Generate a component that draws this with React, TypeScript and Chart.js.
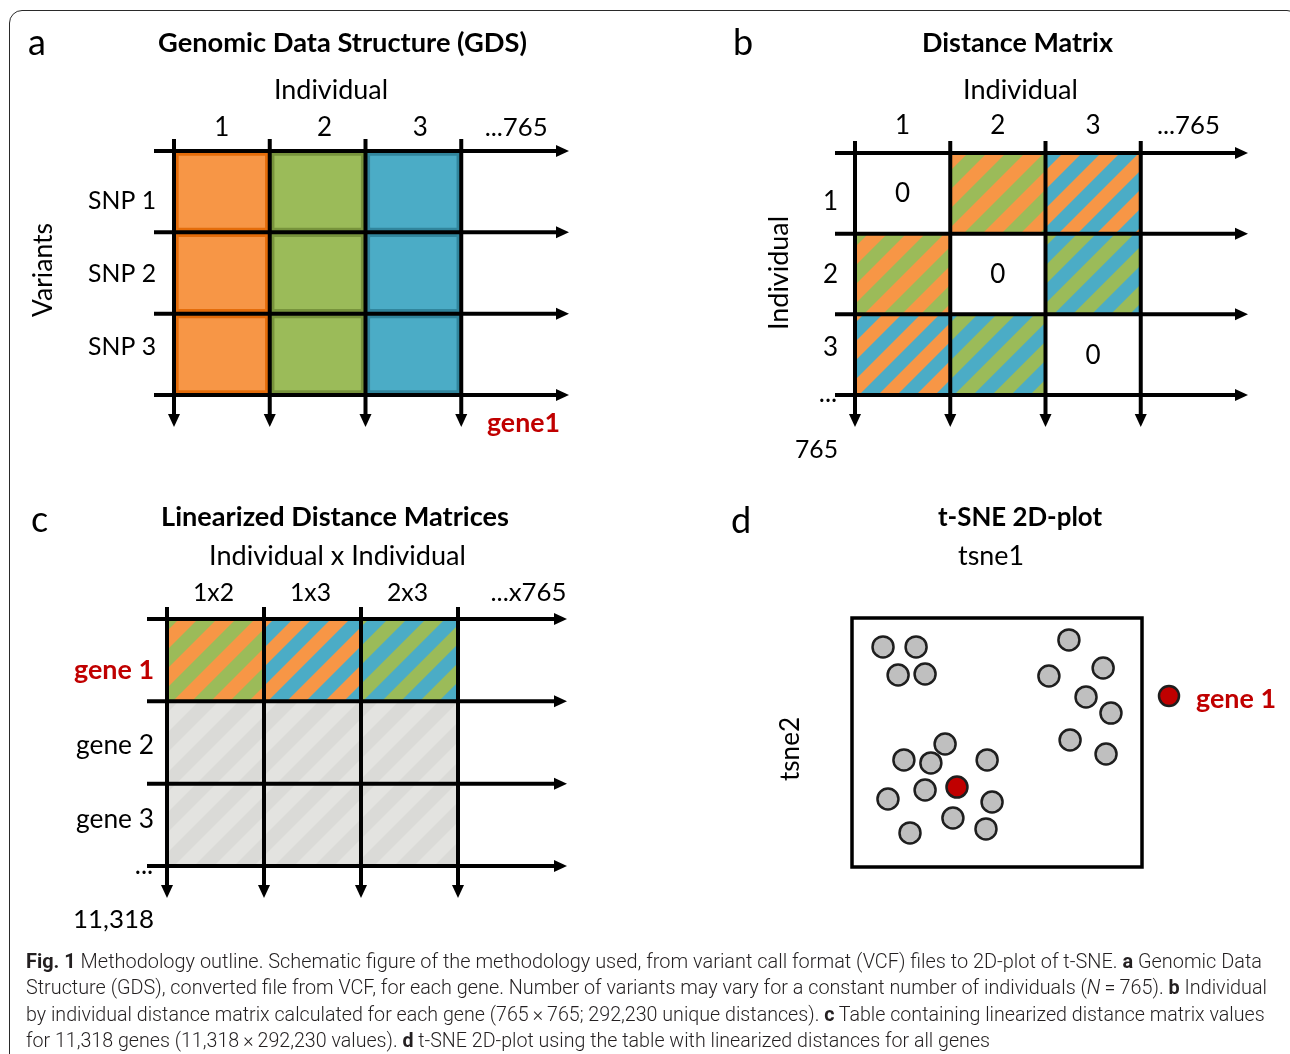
import React, { useEffect, useRef } from 'react';
import { Chart, registerables } from 'chart.js';

Chart.register(...registerables);

const W = 1290;
const H = 1054;
const FONT = 'Lato, "Open Sans", "DejaVu Sans", sans-serif';
const CAP_FONT = 'Roboto, "Liberation Sans", sans-serif';
const CAP_SIZE = 20;

const ORANGE = '#F79646';
const ORANGE_D = '#E46C0A';
const GREEN = '#9BBB59';
const GREEN_D = '#77933C';
const BLUE = '#4BACC6';
const BLUE_D = '#31859C';
const RED = '#C00000';

// ---- Panel a: Genomic Data Structure ----
const gdsIndividuals = ['1', '2', '3', '...765'];
const gdsVariants = ['SNP 1', 'SNP 2', 'SNP 3'];
const gdsIndividualColor = ['orange', 'green', 'blue', ''];

// ---- Panel b: Distance matrix ----
const distIndividuals = ['1', '2', '3', '...765'];
const distRows = ['1', '2', '3'];
const distCells = [
  ['0', 'green|orange', 'blue|orange', ''],
  ['green|orange', '0', 'green|blue', ''],
  ['orange|blue', 'green|blue', '0', ''],
];

// ---- Panel c: Linearized distance matrices ----
const pairLabels = ['1x2', '1x3', '2x3', '...x765'];
const geneLabels = ['gene 1', 'gene 2', 'gene 3'];
const geneCells = [
  ['green|orange', 'blue|orange', 'green|blue', ''],
  ['gray', 'gray', 'gray', ''],
  ['gray', 'gray', 'gray', ''],
];

// ---- Panel d: t-SNE ----
const tsneX = [10.7, 22.1, 15.9, 25.2, 74.8, 86.6, 67.9, 80.7, 89.3, 75.2, 87.6, 32.1, 17.9, 27.2, 46.6, 25.2, 12.4, 48.3, 34.8, 46.2, 20.0];
const tsneY = [88.4, 88.4, 77.1, 77.5, 91.2, 79.9, 76.7, 68.3, 61.8, 51.0, 45.4, 49.4, 43.0, 41.8, 43.0, 30.9, 27.3, 26.1, 19.7, 15.3, 13.7];
const geneOneX = [36.2];
const geneOneY = [32.1];

// ---- Caption ----
type Seg = [string, string];
const captionLines: { segs: Seg[]; width: number; base: number }[] = [
  {
    segs: [['Fig. 1', 'b'], [' Methodology outline. Schematic figure of the methodology used, from variant call format (VCF) files to 2D-plot of t-SNE. ', ''], ['a', 'b'], [' Genomic Data', '']],
    width: 1236, base: 967.5,
  },
  {
    segs: [['Structure (GDS), converted file from VCF, for each gene. Number of variants may vary for a constant number of individuals (', ''], ['N', 'i'], ['\u2009=\u2009765). ', ''], ['b', 'b'], [' Individual', '']],
    width: 1241, base: 994,
  },
  {
    segs: [['by individual distance matrix calculated for each gene (765\u2009\u00d7\u2009765; 292,230 unique distances). ', ''], ['c', 'b'], [' Table containing linearized distance matrix values', '']],
    width: 1239, base: 1020.5,
  },
  {
    segs: [['for 11,318 genes (11,318\u2009\u00d7\u2009292,230 values). ', ''], ['d', 'b'], [' t-SNE 2D-plot using the table with linearized distances for all genes', '']],
    width: 964, base: 1047,
  },
];

function segFont(st: string) {
  return `${st === 'i' ? 'italic ' : ''}${st === 'b' ? 700 : 300} ${CAP_SIZE}px ${CAP_FONT}`;
}

function measureSegs(segs: Seg[]) {
  const c = document.createElement('canvas').getContext('2d')!;
  let w = 0;
  for (const [t, st] of segs) {
    c.font = segFont(st);
    w += c.measureText(t).width;
  }
  return w;
}

type TxtOpt = { w?: number; size?: number; bold?: boolean; color?: string; align?: CanvasTextAlign; rot?: boolean };
function txt(ctx: CanvasRenderingContext2D, s: string, x: number, y: number, o: TxtOpt = {}) {
  const weight = o.bold ? 700 : 400;
  let size = o.size ?? 26;
  ctx.save();
  ctx.font = `${weight} ${size}px ${FONT}`;
  if (o.w) {
    const m = ctx.measureText(s).width;
    size = (size * o.w) / m;
    ctx.font = `${weight} ${size.toFixed(2)}px ${FONT}`;
  }
  ctx.fillStyle = o.color ?? '#000';
  ctx.textAlign = o.align ?? 'center';
  ctx.textBaseline = 'alphabetic';
  ctx.translate(x, y);
  if (o.rot) ctx.rotate(-Math.PI / 2);
  ctx.fillText(s, 0, 0);
  ctx.restore();
}

function stripes(c1: string, c2: string, P: number): CanvasPattern {
  const cv = document.createElement('canvas');
  cv.width = P;
  cv.height = P;
  const g = cv.getContext('2d')!;
  g.fillStyle = c1;
  g.fillRect(0, 0, P, P);
  g.fillStyle = c2;
  for (let k = -1; k <= 2; k++) {
    g.beginPath();
    g.moveTo(k * P, 0);
    g.lineTo(k * P + P / 2, 0);
    g.lineTo(k * P + P / 2 - P, P);
    g.lineTo(k * P - P, P);
    g.closePath();
    g.fill();
  }
  return g.createPattern(cv, 'repeat')!;
}

const colorOf: Record<string, string> = { orange: ORANGE, green: GREEN, blue: BLUE };
const darkOf: Record<string, string> = { orange: ORANGE_D, green: GREEN_D, blue: BLUE_D };

function drawGrid(chart: any) {
  const { ctx, chartArea: a, scales } = chart;
  const x = scales.x;
  const y = scales.y;
  const n = chart.data.labels.length;
  const colW = (a.right - a.left) / n;
  const nRows = chart.data.datasets.length;
  const hStart = a.left - 20;
  const hTip = a.right + 12;
  const vStart = a.top - 12;
  const vTip = a.bottom + 32;
  ctx.save();
  ctx.strokeStyle = '#000';
  ctx.fillStyle = '#000';
  ctx.lineWidth = 4;
  for (let k = 0; k <= nRows; k++) {
    const yy = y.getPixelForValue(k);
    ctx.beginPath();
    ctx.moveTo(hStart, yy);
    ctx.lineTo(hTip - 10, yy);
    ctx.stroke();
    ctx.beginPath();
    ctx.moveTo(hTip, yy);
    ctx.lineTo(hTip - 13, yy - 6);
    ctx.lineTo(hTip - 13, yy + 6);
    ctx.closePath();
    ctx.fill();
  }
  for (let c = 0; c < n; c++) {
    const xx = x.getPixelForValue(c) - colW / 2;
    ctx.beginPath();
    ctx.moveTo(xx, vStart);
    ctx.lineTo(xx, vTip - 10);
    ctx.stroke();
    ctx.beginPath();
    ctx.moveTo(xx, vTip);
    ctx.lineTo(xx - 6, vTip - 13);
    ctx.lineTo(xx + 6, vTip - 13);
    ctx.closePath();
    ctx.fill();
  }
  ctx.restore();
}

// row label position: labels are spaced a little tighter than the rows, around the middle row
function rowLabelY(scale: any, r: number, n: number) {
  const mid = scale.getPixelForValue(n / 2);
  const rowH = Math.abs(scale.getPixelForValue(1) - scale.getPixelForValue(0));
  return mid + (r - (n - 1) / 2) * rowH * 0.9;
}

type Cell = { bg: any; border?: string; bw?: number } | null;

function pad(area: number[]) {
  return { left: area[0], top: area[1], right: W - area[2], bottom: H - area[3] };
}

function matrixChart(
  canvas: HTMLCanvasElement,
  cols: string[],
  rows: string[],
  cell: (r: number, c: number) => Cell,
  area: number[],
  decorate: (chart: any) => void,
) {
  return new Chart(canvas, {
    type: 'bar',
    data: {
      labels: cols,
      datasets: rows.map((row, r) => {
        const cells = cols.map((_, c) => cell(r, c));
        return {
          label: row,
          data: cells.map((k) => (k ? 1 : 0)),
          backgroundColor: cells.map((k) => (k ? k.bg : 'rgba(0,0,0,0)')),
          borderColor: cells.map((k) => (k && k.border ? k.border : 'rgba(0,0,0,0)')),
          borderWidth: cells.map((k) => (k && k.bw ? k.bw : 0)),
          borderSkipped: false,
          barPercentage: 1,
          categoryPercentage: 1,
        } as any;
      }),
    },
    options: {
      responsive: false,
      animation: false,
      devicePixelRatio: 1,
      events: [],
      layout: { padding: pad(area) },
      plugins: { legend: { display: false }, tooltip: { enabled: false }, title: { display: false } },
      scales: {
        x: { stacked: true, display: false },
        y: { stacked: true, display: false, min: 0, max: rows.length, reverse: true },
      },
    } as any,
    plugins: [
      { id: 'gridArrows', afterDatasetsDraw: (ch: any) => drawGrid(ch) },
      { id: 'decor', afterDraw: (ch: any) => decorate(ch) },
    ],
  });
}

export default function App() {
  const ra = useRef<HTMLCanvasElement>(null);
  const rb = useRef<HTMLCanvasElement>(null);
  const rc = useRef<HTMLCanvasElement>(null);
  const rd = useRef<HTMLCanvasElement>(null);

  useEffect(() => {
    const patterns: Record<string, CanvasPattern> = {};
    const pat = (key: string) => {
      if (!patterns[key]) {
        if (key === 'gray') patterns[key] = stripes('#DADAD7', '#E3E3E0', 40);
        else {
          const [c1, c2] = key.split('|');
          patterns[key] = stripes(colorOf[c1], colorOf[c2], 38);
        }
      }
      return patterns[key];
    };

    const chartA = matrixChart(
      ra.current!,
      gdsIndividuals,
      gdsVariants,
      (_r, c) => {
        const k = gdsIndividualColor[c];
        return k ? { bg: colorOf[k], border: darkOf[k], bw: 5 } : null;
      },
      [174, 151, 557, 395],
      (ch) => {
        const { ctx, chartArea: a, scales } = ch;
        txt(ctx, 'a', 28, 55, { size: 36, align: 'left' });
        txt(ctx, 'Genomic Data Structure (GDS)', 342.5, 52, { w: 369, bold: true });
        txt(ctx, 'Individual', 331, 99, { w: 114 });
        gdsIndividuals.forEach((l, c) => {
          txt(ctx, l, scales.x.getPixelForValue(c) + (c === 0 ? 0 : 7), 136, l.length > 2 ? { w: 63 } : { size: 26 });
        });
        gdsVariants.forEach((l, r) => {
          txt(ctx, l, a.left - 18, rowLabelY(scales.y, r, gdsVariants.length) + 9, { w: 68, align: 'right' });
        });
        txt(ctx, 'Variants', 52, 270, { w: 94, rot: true });
        txt(ctx, 'gene1', a.right - 70, 432, { w: 73, bold: true, color: RED, align: 'left' });
      },
    );

    const chartB = matrixChart(
      rb.current!,
      distIndividuals,
      distRows,
      (r, c) => {
        const k = distCells[r][c];
        if (!k) return null;
        if (k === '0') return { bg: '#FFFFFF' };
        return { bg: pat(k) };
      },
      [855, 153, 1236, 395],
      (ch) => {
        const { ctx, chartArea: a, scales } = ch;
        txt(ctx, 'b', 733, 55, { size: 36, align: 'left' });
        txt(ctx, 'Distance Matrix', 1017.5, 52, { w: 191, bold: true });
        txt(ctx, 'Individual', 1020.5, 99, { w: 115 });
        distIndividuals.forEach((l, c) => {
          txt(ctx, l, scales.x.getPixelForValue(c), 134, l.length > 2 ? { w: 63 } : { size: 26 });
        });
        distRows.forEach((l, r) => {
          txt(ctx, l, a.left - 17, rowLabelY(scales.y, r, distRows.length) + 9, { size: 26, align: 'right' });
        });
        distCells.forEach((row, r) =>
          row.forEach((v, c) => {
            if (v === '0') txt(ctx, '0', scales.x.getPixelForValue(c), scales.y.getPixelForValue(r + 0.5) + 9, { size: 26 });
          }),
        );
        txt(ctx, '...', 828, 402, { size: 26 });
        txt(ctx, '765', 816.5, 458, { w: 43 });
        txt(ctx, 'Individual', 788, 273, { w: 114, rot: true });
      },
    );

    const chartC = matrixChart(
      rc.current!,
      pairLabels,
      geneLabels,
      (r, c) => {
        const k = geneCells[r][c];
        return k ? { bg: pat(k) } : null;
      },
      [167, 619, 555, 866],
      (ch) => {
        const { ctx, chartArea: a, scales } = ch;
        txt(ctx, 'c', 31, 532, { size: 36, align: 'left' });
        txt(ctx, 'Linearized Distance Matrices', 335, 526, { w: 348, bold: true });
        txt(ctx, 'Individual x Individual', 337.5, 565, { w: 257 });
        pairLabels.forEach((l, c) => {
          const long = l.length > 3;
          txt(ctx, l, scales.x.getPixelForValue(c) + (long ? 22 : -2), 601, { w: long ? 76 : 41 });
        });
        geneLabels.forEach((l, r) => {
          const first = r === 0;
          txt(ctx, l, a.left - 13, rowLabelY(scales.y, r, geneLabels.length) + 11, {
            w: first ? 80 : 78,
            bold: first,
            color: first ? RED : '#000',
            align: 'right',
          });
        });
        txt(ctx, '...', 144, 874, { size: 26 });
        txt(ctx, '11,318', 113.5, 928, { w: 81 });
      },
    );

    const chartD = new Chart(rd.current!, {
      type: 'scatter',
      data: {
        datasets: [
          {
            label: 'genes',
            data: tsneX.map((x, i) => ({ x, y: tsneY[i] })),
            backgroundColor: '#BFBFBF',
            borderColor: '#1E1E1E',
            borderWidth: 2.5,
            pointRadius: 10.5,
          },
          {
            label: 'gene 1',
            data: geneOneX.map((x, i) => ({ x, y: geneOneY[i] })),
            backgroundColor: RED,
            borderColor: '#1E1E1E',
            borderWidth: 2.5,
            pointRadius: 10.5,
          },
        ],
      },
      options: {
        responsive: false,
        animation: false,
        devicePixelRatio: 1,
        events: [],
        layout: { padding: pad([852, 618, 1142, 867]) },
        plugins: { legend: { display: false }, tooltip: { enabled: false }, title: { display: false } },
        scales: {
          x: { type: 'linear', display: false, min: 0, max: 100 },
          y: { type: 'linear', display: false, min: 0, max: 100 },
        },
      } as any,
      plugins: [
        {
          id: 'tsneDecor',
          beforeDatasetsDraw: (ch: any) => {
            const { ctx, chartArea: a } = ch;
            ctx.save();
            ctx.strokeStyle = '#000';
            ctx.lineWidth = 3.5;
            ctx.strokeRect(a.left, a.top, a.right - a.left, a.bottom - a.top);
            ctx.restore();
          },
          afterDraw: (ch: any) => {
            const { ctx, chartArea: a } = ch;
            txt(ctx, 'd', 731, 533, { size: 36, align: 'left' });
            txt(ctx, 't-SNE 2D-plot', 1020, 526, { w: 164, bold: true });
            txt(ctx, 'tsne1', 991, 565, { w: 66 });
            txt(ctx, 'tsne2', 799, 749, { w: 64, rot: true });
            ctx.save();
            ctx.beginPath();
            ctx.arc(a.right + 27, a.top + 78, 10, 0, Math.PI * 2);
            ctx.fillStyle = RED;
            ctx.fill();
            ctx.lineWidth = 2.5;
            ctx.strokeStyle = '#1E1E1E';
            ctx.stroke();
            ctx.restore();
            txt(ctx, 'gene 1', a.right + 54, a.top + 90, { w: 80, bold: true, color: RED, align: 'left' });
          },
        },
      ],
    });

    return () => {
      chartA.destroy();
      chartB.destroy();
      chartC.destroy();
      chartD.destroy();
    };
  }, []);

  const canvasStyle: React.CSSProperties = { position: 'absolute', left: 0, top: 0, width: W, height: H };

  return (
    <div style={{ position: 'absolute', left: 0, top: 0, width: W, height: H, overflow: 'hidden', background: '#fff' }}>
      <div
        style={{
          position: 'absolute',
          left: 9,
          top: 10,
          width: 1291,
          height: 1200,
          border: '1.5px solid #2a2a2a',
          borderRadius: 13,
          boxSizing: 'border-box',
        }}
      />
      <canvas ref={ra} width={W} height={H} style={canvasStyle} />
      <canvas ref={rb} width={W} height={H} style={canvasStyle} />
      <canvas ref={rc} width={W} height={H} style={canvasStyle} />
      <canvas ref={rd} width={W} height={H} style={canvasStyle} />
      {captionLines.map((line, i) => {
        const natural = measureSegs(line.segs);
        const s = line.width / natural;
        return (
          <div
            key={i}
            style={{
              position: 'absolute',
              left: 26,
              top: line.base - 17,
              whiteSpace: 'pre',
              fontFamily: CAP_FONT,
              fontSize: CAP_SIZE,
              lineHeight: '20px',
              fontWeight: 300,
              color: '#231F20',
              transform: `scaleX(${s})`,
              transformOrigin: '0 0',
            }}
          >
            {line.segs.map(([t, st], j) => (
              <span
                key={j}
                style={{
                  fontWeight: st === 'b' ? 700 : 300,
                  fontStyle: st === 'i' ? 'italic' : 'normal',
                }}
              >
                {t}
              </span>
            ))}
          </div>
        );
      })}
    </div>
  );
}
